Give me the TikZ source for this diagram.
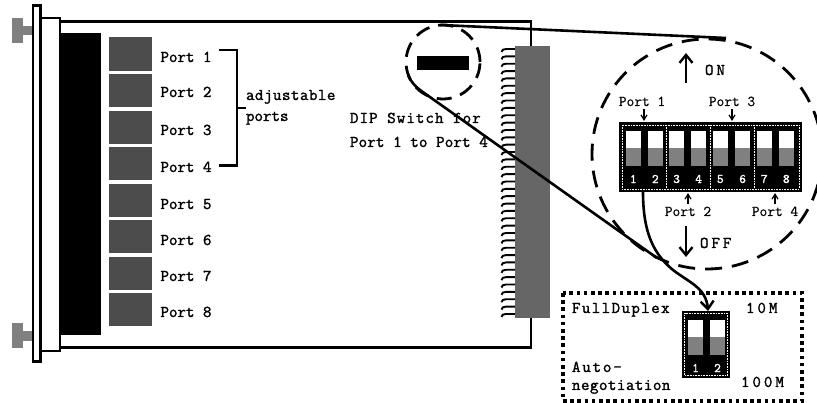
\documentclass[tikz,border=0pt]{standalone}
\usepackage{fontspec}
\usetikzlibrary{arrows.meta}
\newfontfamily\lblfont[FakeBold=1.6]{Latin Modern Mono}
\newfontfamily\thinfont[FakeBold=0.4]{Latin Modern Mono}
\definecolor{portgray}{gray}{0.3}
\definecolor{knobgray}{gray}{0.5}
\definecolor{conngray}{gray}{0.4}
\newcommand{\ls}[2]{{\addfontfeature{LetterSpace=#1}#2}}
\newcommand{\slidersw}[3]{%
  \fill[white] (#1,#2) rectangle (#1+15.3,#2+17.3);
  \fill[knobgray] (#1,#2+17.3) rectangle (#1+15.3,#2+35);
  \node[numlabel] (n#3) at (#1+7.6,#2+48) {#3};
}
\tikzset{
  lbl/.style={font=\lblfont\fontsize{16.5}{18}\selectfont, anchor=base west, inner sep=0pt, outer sep=0pt},
  thinlbl/.style={font=\thinfont\fontsize{15}{17}\selectfont, anchor=base, inner sep=0pt, outer sep=0pt},
  numlabel/.style={font=\lblfont\fontsize{13}{14}\selectfont, text=white, inner sep=0pt},
  line/.style={line width=2.5pt, black},
  portbox/.style={fill=portgray},
  knob/.style={fill=knobgray},
  bigdash/.style={line width=2.8pt, dash pattern=on 17pt off 10pt},
  smalldash/.style={line width=2.8pt, dash pattern=on 15pt off 9pt},
  dotbox/.style={line width=3.2pt, dash pattern=on 3.6pt off 3.6pt},
  frame/.style={white, line width=0.8pt, dash pattern=on 1pt off 0.6pt},
  opentip/.style={-{Straight Barb[length=5pt,width=6pt,line width=1.2pt]}, line width=1.2pt},
  bigtip/.style={-{Straight Barb[length=8pt,width=13pt,line width=2.4pt]}, line width=2.4pt},
}
\begin{document}
\begin{tikzpicture}[x=1pt,y=-1pt]
\useasboundingbox (0,0) rectangle (817,403);
\begin{scope}
\clip (0,0) rectangle (817,403);
% knobs
\fill[knob] (12,18) rectangle (23,43);
\fill[knob] (23,26) rectangle (33,35);
\fill[knob] (12,323) rectangle (23,348);
\fill[knob] (23,331) rectangle (33,341);
% face plates
\draw[line] (33,5.5) rectangle (40.5,361.5);
\draw[line] (40.5,18) rectangle (60,351);
% board
\coordinate (tl) at (60,21.5);
\coordinate (tr) at (531,21.5);
\coordinate (tc) at (531,46);
\coordinate (bl) at (60,347.5);
\coordinate (br) at (531,347.5);
\coordinate (bc) at (531,318);
\draw[line] (tl) -- (tr) -- (tc);
\draw[line] (bl) -- (br) -- (bc);
\fill[black] (59,33) rectangle (101,335);
% ports
\foreach \a/\b in {37/71,74/107,111/144,147/180,184/217,220/253,257/290,293/326}
  \fill[portbox] (109,\a) rectangle (152,\b);
\foreach \i/\y in {1/62,2/97,3/135,4/172,5/209,6/245,7/281,8/317}
  \node[lbl] (p\i) at (160.5,\y) {Port \i};
% bracket
\coordinate (b1) at (219,50);
\coordinate (b2) at (237,50);
\coordinate (b3) at (237,165.5);
\coordinate (b4) at (219,165.5);
\coordinate (b5) at (246,108);
\coordinate (b6) at (237,108);
\draw[line width=2.8pt] (b1) -- (b2) -- (b3) -- (b4);
\draw[line width=2.8pt] (b6) -- (b5);
\node[lbl] (adj) at (246,100) {\ls{3}{adjustable}};
\node[lbl] (prt) at (246,121) {ports};
\node[lbl] (dip1) at (350,123) {\ls{6.5}{DIP Switch for}};
\node[lbl] (dip2) at (350,147) {\ls{1}{Port 1 to Port 4}};
% comb
\foreach \k in {0,...,36}{
  \pgfmathsetmacro{\yy}{49+\k*7.36}
  \draw[line width=1.9pt] (515,\yy) -- (506,\yy) .. controls (503,\yy) and (502,\yy+1) .. (501.5,\yy+3);
}
\fill[conngray] (515,46) rectangle (550,318);
% small circle
\fill[black] (417,56) rectangle (469,70);
\node[circle, minimum size=74pt, inner sep=0pt, draw, smalldash] (smallc) at (443,62) {};
% big circle
\node[circle, minimum size=230pt, inner sep=0pt, draw, bigdash] (bigc) at (707,154) {};
% leader lines
\coordinate (la) at (441,25);
\coordinate (lb) at (726,38);
\draw[line width=2.6pt] (la) -- (lb);
\coordinate (lc) at (408,75);
\coordinate (ld) at (420,90);
\coordinate (le) at (657,258);
\draw[line width=2.6pt] (lc) .. controls (411,82) and (415,86) .. (ld) -- (le);
% main dip
\fill[black] (619,122) rectangle (802,192);
\draw[frame] (622,125) rectangle (799,189);
\foreach \x in {666,710,754} \draw[frame] (\x,125) -- (\x,189);
\slidersw{625.7}{131}{1}
\slidersw{647.7}{131}{2}
\slidersw{669}{131}{3}
\slidersw{691}{131}{4}
\slidersw{712.7}{131}{5}
\slidersw{735}{131}{6}
\slidersw{756.7}{131}{7}
\slidersw{778.7}{131}{8}
% small port labels
\node[thinlbl] (s1) at (642,106) {Port 1};
\node[thinlbl] (s3) at (732,106) {Port 3};
\node[thinlbl] (s2) at (688,216) {Port 2};
\node[thinlbl] (s4) at (775,216) {Port 4};
\coordinate (s1a) at (644,109);
\coordinate (s1b) at (644,121);
\coordinate (s3a) at (732,109);
\coordinate (s3b) at (732,121);
\coordinate (s2a) at (688,204);
\coordinate (s2b) at (688,193);
\coordinate (s4a) at (775,204);
\coordinate (s4b) at (775,193);
\draw[opentip] (s1a) -- (s1b);
\draw[opentip] (s3a) -- (s3b);
\draw[opentip] (s2a) -- (s2b);
\draw[opentip] (s4a) -- (s4b);
% ON OFF
\coordinate (ona) at (686,83);
\coordinate (onb) at (686,53);
\coordinate (ofa) at (686,226);
\coordinate (ofb) at (686,257);
\draw[bigtip] (ona) -- (onb);
\draw[bigtip] (ofa) -- (ofb);
\node[lbl] (on) at (705,75) {\ls{18}{ON}};
\node[lbl] (off) at (700,248) {\ls{18}{OFF}};
% dotted box
\draw[dotbox] (563,293) rectangle (802,401);
\node[lbl] (fd) at (572,313) {\ls{8.5}{FullDuplex}};
\node[lbl] (m10) at (746,313) {\ls{18}{10M}};
\node[lbl] (au) at (572,372) {\ls{11}{Auto-}};
\node[lbl] (neg) at (572,390) {\ls{3}{negotiation}};
\node[lbl] (m100) at (741,387) {\ls{18}{100M}};
% small dip
\fill[black] (682,311) rectangle (730,378);
\draw[frame] (684.5,313.5) rectangle (727.5,375.5);
\fill[white] (688,320) rectangle (703,337);
\fill[knobgray] (688,337) rectangle (703,355);
\fill[white] (710,320) rectangle (725,337);
\fill[knobgray] (710,337) rectangle (725,355);
\node[numlabel] (q1) at (695.5,368) {1};
\node[numlabel] (q2) at (717.5,368) {2};
% curve to small dip
\coordinate (ca) at (643,192);
\coordinate (cb) at (708,311);
\draw[bigtip, line width=2.6pt] (ca) .. controls (643,235) and (655,255) .. (673,270) .. controls (690,283) and (706,288) .. (cb);
\end{scope}
\end{tikzpicture}
\end{document}
